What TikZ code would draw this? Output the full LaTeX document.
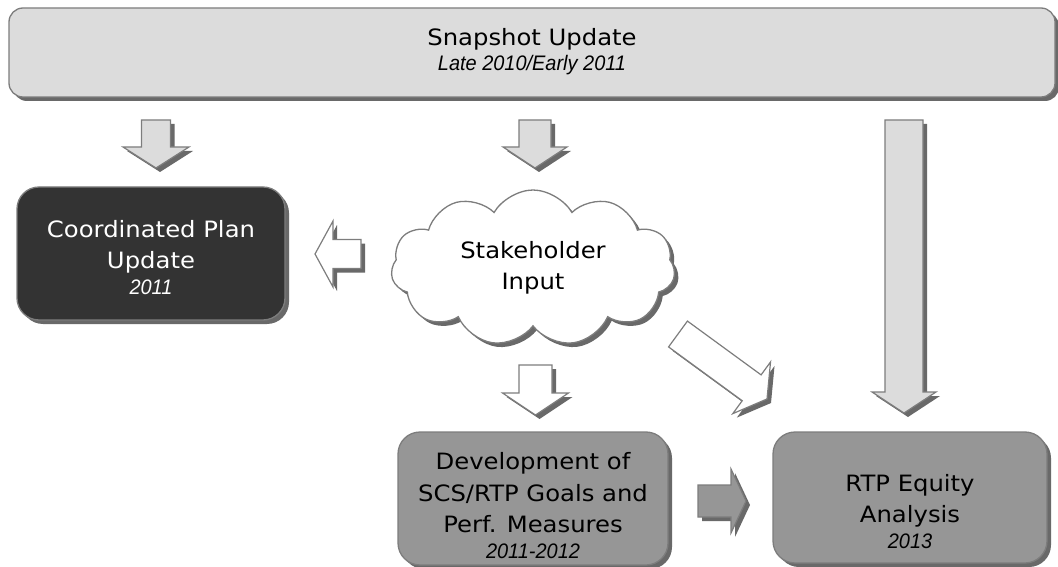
\documentclass[tikz,border=0pt]{standalone}
\usepackage{fontspec}
\setmainfont{DejaVu Sans}[FakeStretch=1.08]
\newfontfamily\datefont[FakeStretch=0.95]{Liberation Sans}
\definecolor{snapgray}{RGB}{220,220,220}
\definecolor{edgegray}{RGB}{125,125,125}
\definecolor{shadegray}{RGB}{105,105,105}
\definecolor{plandark}{RGB}{51,51,51}
\definecolor{midgray}{RGB}{150,150,150}
\usepackage{tikz}
\usetikzlibrary{shapes.symbols, shadows, calc}

\newcommand{\mainsize}{\fontsize{22.5}{31.5}\selectfont}
\newcommand{\yr}[1]{{\datefont\itshape\fontsize{21}{25}\selectfont #1}}
% block arrow: [style]{tail}{tip}{shaft half width}{head half width}{head length}
\newcommand{\blockarrow}[6][]{%
  \coordinate (hb) at ($(#3)!#6!(#2)$);
  \path[#1] ($(#2)!#4!90:(#3)$) -- ($(hb)!#4!90:(#3)$) -- ($(hb)!#5!90:(#3)$)
    -- (#3) -- ($(hb)!#5!-90:(#3)$) -- ($(hb)!#4!-90:(#3)$)
    -- ($(#2)!#4!-90:(#3)$) -- cycle;}

\begin{document}
\begin{tikzpicture}[x=1pt, y=-1pt,
  shade/.style={drop shadow={shadow xshift=4pt, shadow yshift=-4pt,
                fill=shadegray, opacity=1}},
  box/.style={rectangle, rounded corners=22pt, draw=edgegray, line width=1.3pt,
              shade},
  boxtext/.style={align=center, font=\mainsize},
  bigarr/.style={draw=edgegray, line width=1.2pt, shade},
  greyarr/.style={bigarr, fill=snapgray},
  whitearr/.style={bigarr, fill=white}
]
  \useasboundingbox (0,0) rectangle (1058,567);

  \node[box, fill=snapgray, rounded corners=14pt, minimum width=1046pt,
        minimum height=89pt] (snap) at (532,52.5) {};
  \node[boxtext] (snap-t) at ([yshift=1pt]snap.center)
        {Snapshot Update\\[-7pt]\yr{Late 2010/Early 2011}};
  \node[box, fill=plandark, minimum width=268pt,
        minimum height=133pt] (plan) at (151,253.5) {};
  \node[boxtext, text=white] (plan-t) at ([yshift=-4pt]plan.center)
        {Coordinated Plan\\Update\\[-6pt]\yr{2011}};
  \node[cloud, cloud puffs=11, cloud puff arc=120, aspect=1.8, fill=white,
        draw=edgegray, line width=1.3pt, shade, boxtext,
        minimum width=284pt, minimum height=156pt] (input) at (533,268)
        {Stakeholder\\Input};
  \node[box, fill=midgray, minimum width=270pt,
        minimum height=133pt] (goals) at (533,498.5) {};
  \node[boxtext] (goals-t) at ([yshift=-7pt]goals.center)
        {Development of\\SCS/RTP Goals and\\Perf. Measures\\[-6pt]\yr{2011-2012}};
  \node[box, fill=midgray, minimum width=274pt,
        minimum height=131pt] (equity) at (910,497.5) {};
  \node[boxtext] (equity-t) at ([yshift=-14pt]equity.center)
        {RTP Equity\\Analysis\\[-6pt]\yr{2013}};

  \coordinate (snapPlan) at (156,120);  \coordinate (planTop) at (156,168);
  \coordinate (snapInput) at (535,120); \coordinate (inputTop) at (535,168);
  \coordinate (snapEquity) at (904,120); \coordinate (equityTop) at (904,413);
  \coordinate (inputPlan) at (361,254); \coordinate (planSide) at (315,254);
  \coordinate (inputGoals) at (535.5,365); \coordinate (goalsTop) at (535.5,415);
  \coordinate (inputEquity) at (678,334); \coordinate (equityCorner) at (767,399);
  \coordinate (goalsEquity) at (698,501); \coordinate (equitySide) at (746,501);

  \blockarrow[greyarr]{snapPlan}{planTop}{14.5pt}{33pt}{21pt}
  \blockarrow[greyarr]{snapInput}{inputTop}{16pt}{32pt}{21pt}
  \blockarrow[greyarr]{snapEquity}{equityTop}{19pt}{32pt}{21pt}
  \blockarrow[whitearr]{inputPlan}{planSide}{14.5pt}{33pt}{18pt}
  \blockarrow[whitearr]{inputGoals}{goalsTop}{16.5pt}{33pt}{22pt}
  \blockarrow[whitearr]{inputEquity}{equityCorner}{16pt}{32pt}{19pt}
  \blockarrow[bigarr, fill=midgray]{goalsEquity}{equitySide}{16pt}{32pt}{15pt}
\end{tikzpicture}
\end{document}
